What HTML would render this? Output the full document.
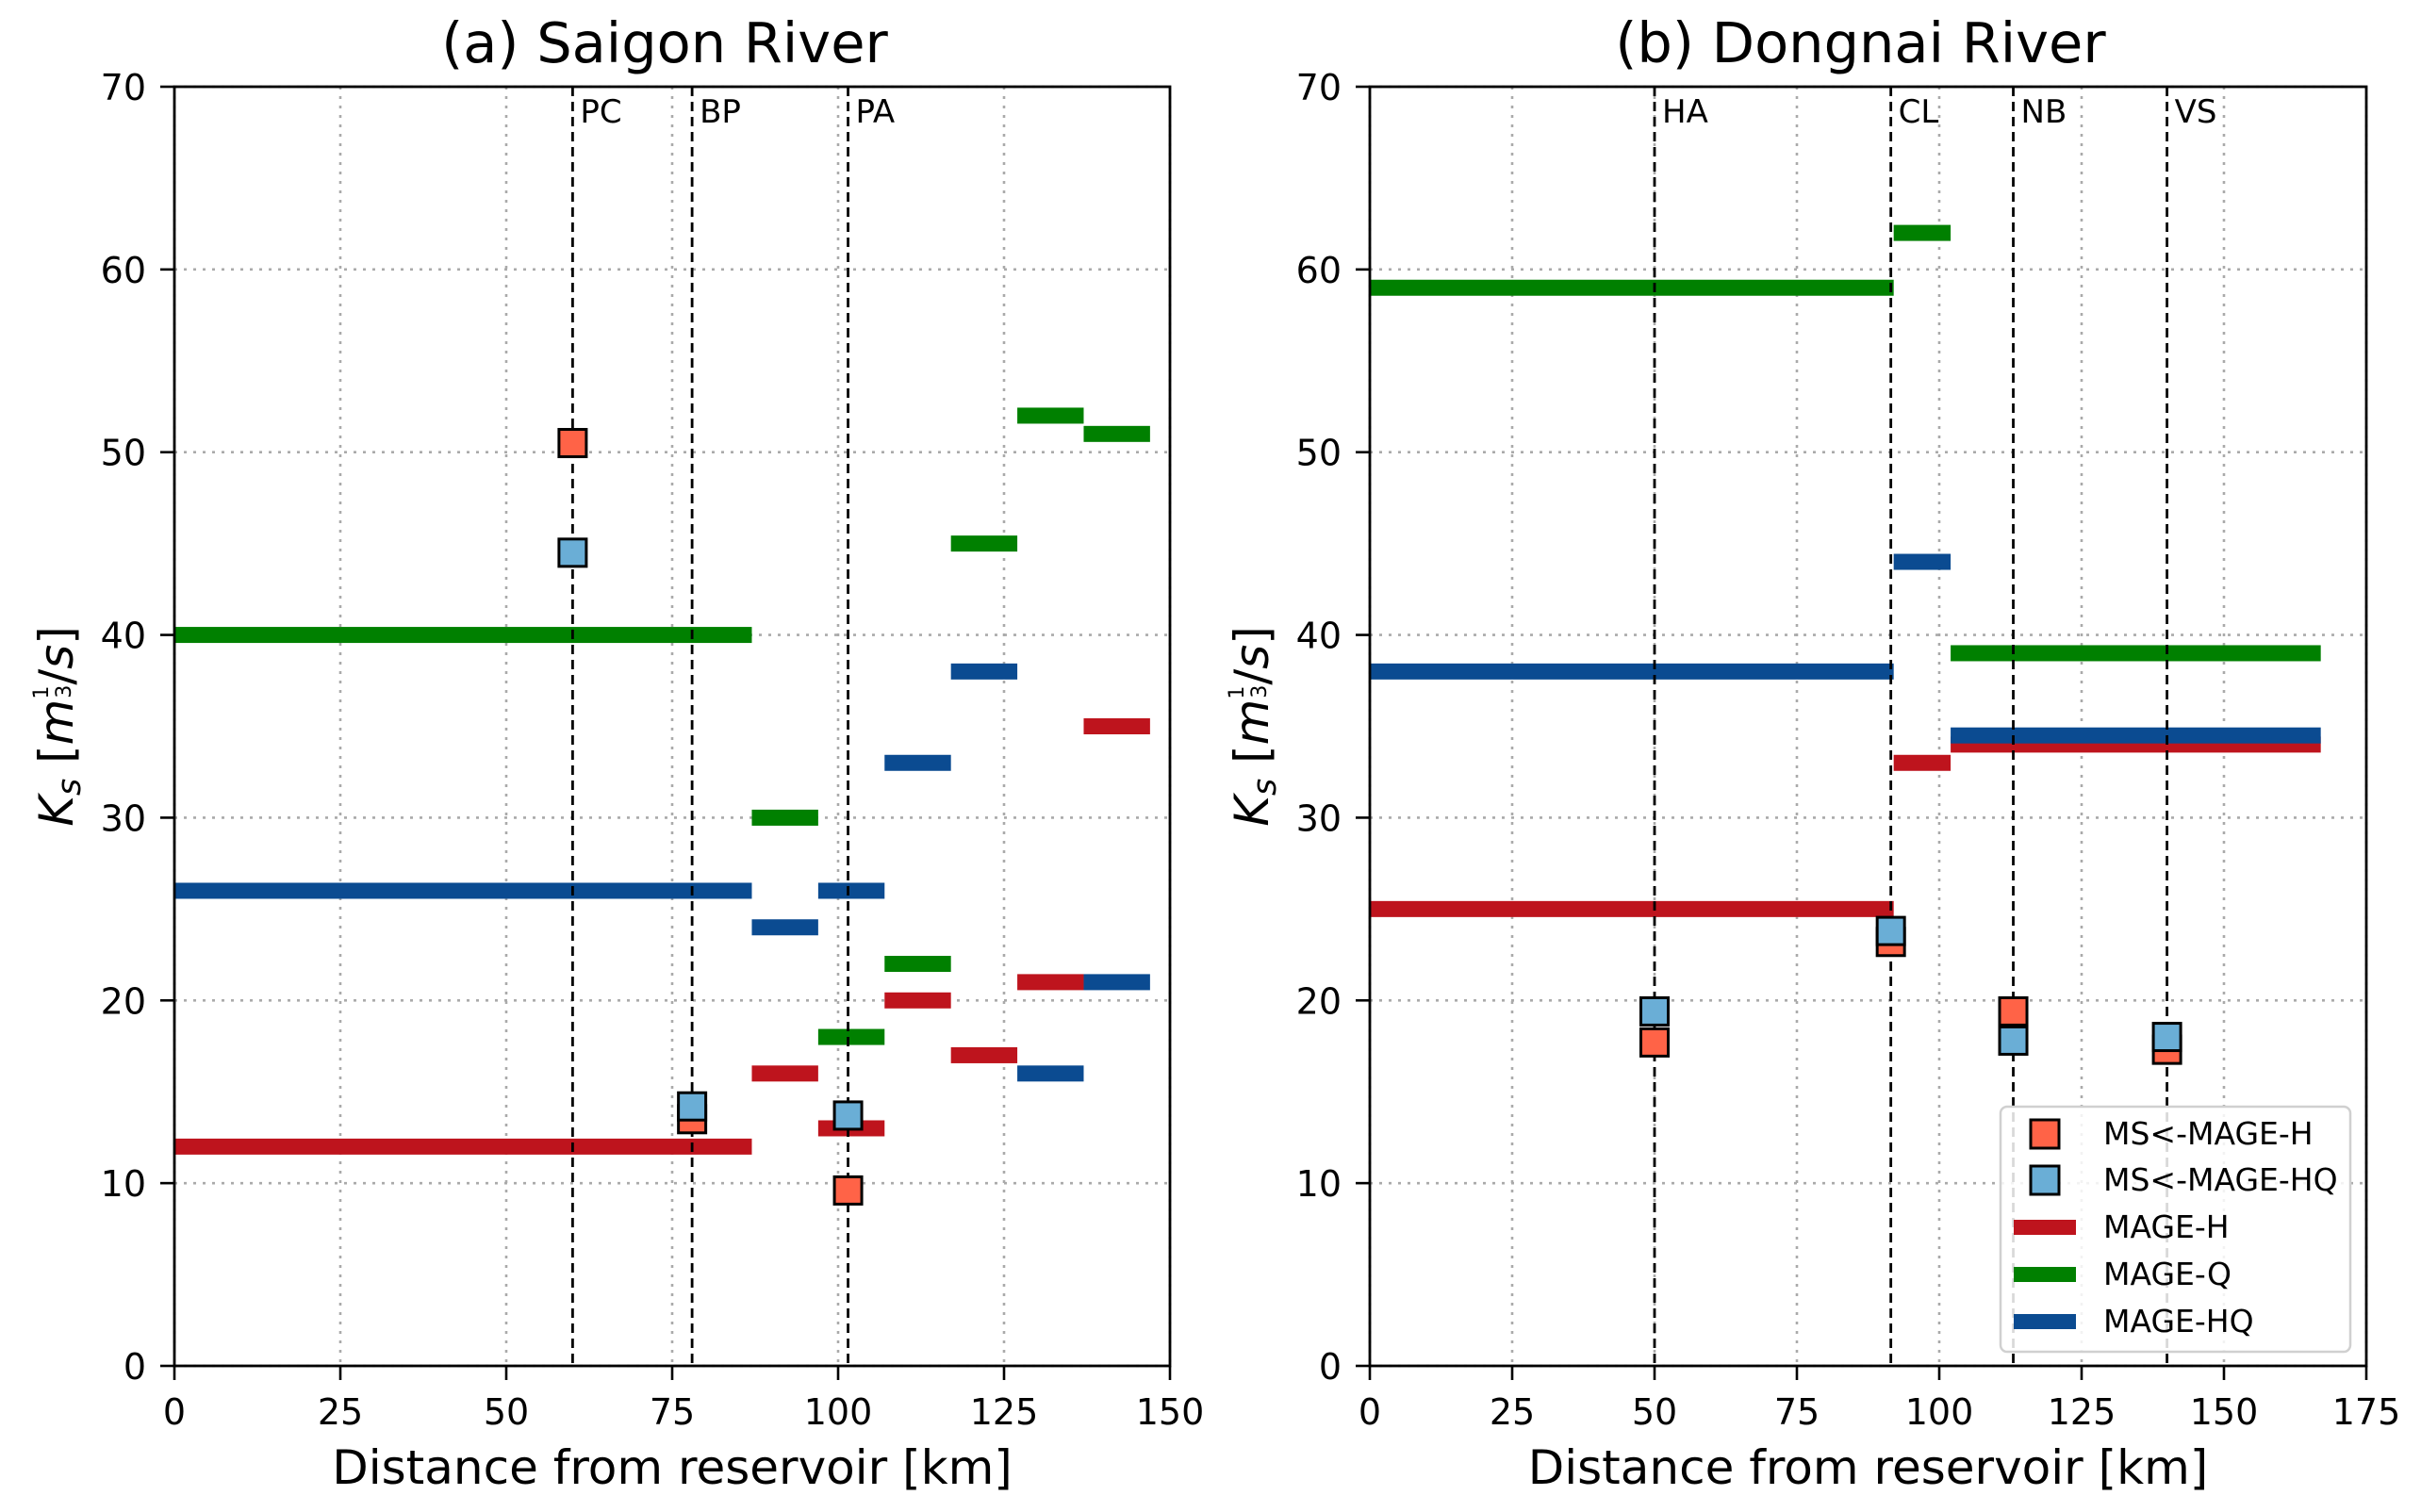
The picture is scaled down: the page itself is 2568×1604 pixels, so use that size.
<!DOCTYPE html>
<html><head><meta charset="utf-8">
<style>
html,body{margin:0;padding:0;background:#fff;}
svg{display:block;font-family:"DejaVu Sans","Liberation Sans",sans-serif;}
</style></head>
<body>
<svg id="chart" width="2568" height="1604" viewBox="0 0 2568 1604" xmlns="http://www.w3.org/2000/svg"></svg>
<script>
// ---- Panel (a) Saigon River data ----
const saigonSegStart = [0, 87, 97, 107, 117, 127, 137];
const saigonSegEnd   = [87, 97, 107, 117, 127, 137, 147];
const saigonH  = [12, 16, 13, 20, 17, 21, 35];
const saigonQ  = [40, 30, 18, 22, 45, 52, 51];
const saigonHQ = [26, 24, 26, 33, 38, 16, 21];
const saigonStations = ["PC", "BP", "PA"];
const saigonStationKm = [60, 78, 101.5];
const saigonMsH  = [50.5, 13.5, 9.6];
const saigonMsHQ = [44.5, 14.2, 13.7];
const saigonXTicks = [0, 25, 50, 75, 100, 125, 150];

// ---- Panel (b) Dongnai River data ----
const dongnaiSegStart = [0, 92, 102];
const dongnaiSegEnd   = [92, 102, 167];
const dongnaiH  = [25, 33, 34];
const dongnaiQ  = [59, 62, 39];
const dongnaiHQ = [38, 44, 34.5];
const dongnaiStations = ["HA", "CL", "NB", "VS"];
const dongnaiStationKm = [50, 91.5, 113, 140];
const dongnaiMsH  = [17.7, 23.2, 19.4, 17.3];
const dongnaiMsHQ = [19.4, 23.8, 17.8, 18.0];
const dongnaiXTicks = [0, 25, 50, 75, 100, 125, 150, 175];

const yTicks = [0, 10, 20, 30, 40, 50, 60, 70];
const legendLabels = ["MS<-MAGE-H", "MS<-MAGE-HQ", "MAGE-H", "MAGE-Q", "MAGE-HQ"];

const C = {H:"#be141d", Q:"#008000", HQ:"#0b4b91", mH:"#ff6347", mHQ:"#6aaed6"};
const NS = "http://www.w3.org/2000/svg";
const svg = document.getElementById('chart');
function mk(tag, attrs, parent){
  const e = document.createElementNS(NS, tag);
  for (const k in attrs) e.setAttribute(k, attrs[k]);
  (parent||svg).appendChild(e);
  return e;
}

function panel(opt){
  const g = mk('g', {});
  
  
  const L = opt.left, R = opt.right, T = 92, B = 1449;
  const xs = v => L + (v - opt.xmin) / (opt.xmax - opt.xmin) * (R - L);
  const ys = v => B - v / 70 * (B - T);
  opt.xticks.forEach(t => {
    const l = mk('line', {x1:xs(t), x2:xs(t), y1:T, y2:B, stroke:'#aaaaaa', 'stroke-width':2.6, 'stroke-dasharray':'3 7'}, g);
    
    
  });
  yTicks.forEach(t => {
    const l = mk('line', {x1:L, x2:R, y1:ys(t), y2:ys(t), stroke:'#aaaaaa', 'stroke-width':2.6, 'stroke-dasharray':'3 7'}, g);
    
    
  });
  const series = [['H', opt.H], ['Q', opt.Q], ['HQ', opt.HQ]];
  series.forEach(([key, vals]) => {
    vals.forEach((v, i) => {
      const r = mk('rect', {x:xs(opt.s[i]), y:ys(v)-8.5, width:xs(opt.e[i])-xs(opt.s[i]), height:17, fill:C[key]}, g);
      
      
    });
  });
  opt.stations.forEach((name, i) => {
    const x = xs(opt.km[i]);
    const l = mk('line', {x1:x, x2:x, y1:T, y2:B, stroke:'#000', 'stroke-width':2.8, 'stroke-dasharray':'10 6'}, g);
    
    
    const t = mk('text', {x:x+8, y:130, 'font-size':34, fill:'#000'}, g);
    t.textContent = name;
    
    
  });
  [['mH', opt.mH], ['mHQ', opt.mHQ]].forEach(([key, vals]) => {
    vals.forEach((v, i) => {
      const r = mk('rect', {x:xs(opt.km[i])-14.5, y:ys(v)-14.5, width:29, height:29, fill:C[key], stroke:'#000', 'stroke-width':3}, g);
      
      
    });
  });
  const sp = mk('rect', {x:L, y:T, width:R-L, height:B-T, fill:'none', stroke:'#000', 'stroke-width':2.8}, g);
  
  
  opt.xticks.forEach(t => {
    const l = mk('line', {x1:xs(t), x2:xs(t), y1:B, y2:B+15, stroke:'#000', 'stroke-width':2.6}, g);
    
    
    const tx = mk('text', {x:xs(t), y:B+62, 'font-size':38, 'text-anchor':'middle'}, g);
    tx.textContent = t;
    
    
  });
  yTicks.forEach(t => {
    const l = mk('line', {x1:L-15, x2:L, y1:ys(t), y2:ys(t), stroke:'#000', 'stroke-width':2.6}, g);
    
    
    const tx = mk('text', {x:L-30, y:ys(t)+14, 'font-size':38, 'text-anchor':'end'}, g);
    tx.textContent = t;
    
    
  });
  const ti = mk('text', {x:(L+R)/2-8, y:66, 'font-size':59, 'text-anchor':'middle'}, g);
  ti.textContent = opt.title;
  
  
  const xl = mk('text', {x:(L+R)/2, y:1574, 'font-size':50, 'text-anchor':'middle'}, g);
  xl.textContent = 'Distance from reservoir [km]';
  
  
  const yc = (T+B)/2;
  const yl = mk('text', {transform:`translate(${L-108},${yc}) rotate(-90)`, 'font-size':50, 'text-anchor':'middle'}, g);
  
  
  yl.innerHTML = '<tspan font-style="italic">K</tspan><tspan font-style="italic" font-size="35" dy="8">s</tspan><tspan dy="-8"> [</tspan><tspan font-style="italic">m</tspan><tspan font-size="22" dy="-26">1</tspan><tspan font-size="22" dx="-13" dy="24">3</tspan><tspan dy="2">/</tspan><tspan font-style="italic">s</tspan><tspan>]</tspan>';
  return {g, xs, ys};
}

panel({id:'saigon', left:185, right:1241, xmin:0, xmax:150, xticks:saigonXTicks,
  s:saigonSegStart, e:saigonSegEnd, H:saigonH, Q:saigonQ, HQ:saigonHQ,
  stations:saigonStations, km:saigonStationKm, mH:saigonMsH, mHQ:saigonMsHQ,
  title:'(a) Saigon River'});
panel({id:'dongnai', left:1453, right:2510, xmin:0, xmax:175, xticks:dongnaiXTicks,
  s:dongnaiSegStart, e:dongnaiSegEnd, H:dongnaiH, Q:dongnaiQ, HQ:dongnaiHQ,
  stations:dongnaiStations, km:dongnaiStationKm, mH:dongnaiMsH, mHQ:dongnaiMsHQ,
  title:'(b) Dongnai River'});

const lg = mk('g', {});


const box = mk('rect', {x:2122, y:1174, width:371, height:260, rx:7, fill:'#fff', 'fill-opacity':0.85, stroke:'#d0d0d0', 'stroke-width':2.5}, lg);


const legendY = [1203, 1252, 1302, 1352, 1402];
const legendColors = [C.mH, C.mHQ, C.H, C.Q, C.HQ];
legendLabels.forEach((lab, i) => {
  const y = legendY[i];
  if (i < 2) {
    const r = mk('rect', {x:2154, y:y-15, width:30, height:30, fill:legendColors[i], stroke:'#000', 'stroke-width':3}, lg);
    
    
  } else {
    const r = mk('rect', {x:2136, y:y-8, width:66, height:16, fill:legendColors[i]}, lg);
    
    
  }
  const t = mk('text', {x:2231, y:y+11, 'font-size':33}, lg);
  t.textContent = lab;
  
  
});
</script>
</body></html>
